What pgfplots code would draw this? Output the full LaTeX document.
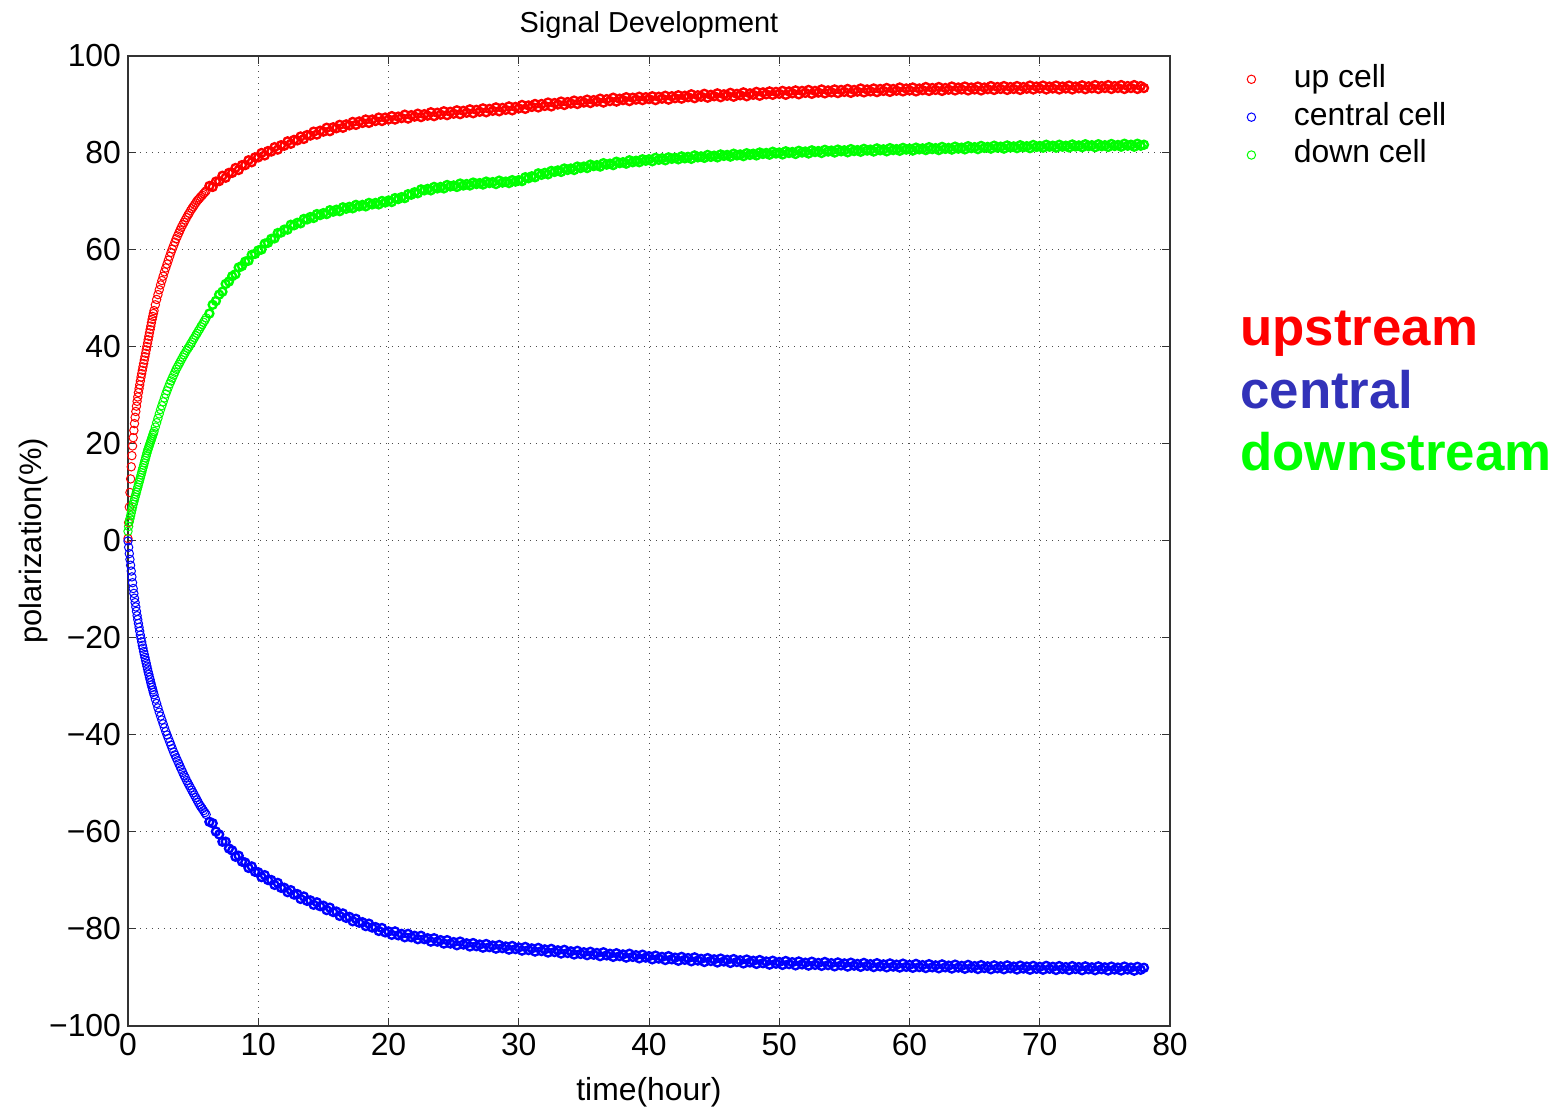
\documentclass[border=0pt]{standalone}
\usepackage{pgfplots}
\pgfplotsset{compat=1.18}
\usepackage{pgfplotstable}
\usepackage{fontspec}
\setmainfont{Liberation Sans}
\definecolor{upc}{RGB}{255,0,0}
\definecolor{cenc}{RGB}{0,0,255}
\definecolor{downc}{RGB}{0,255,0}
\definecolor{centxt}{RGB}{50,50,185}
\pgfplotsset{myleg/.style={legend image code/.code={\draw[##1] plot coordinates {(0cm,0cm)}; \path[draw=none] (0cm,0cm) (0.68cm,0cm);}}}
\pgfplotstableread{
t u c d
0.00 0.5 0 2.0
0.05 3.8 -1.3 3.0
0.10 7.0 -2.6 4.0
0.15 10.0 -3.8 4.6
0.20 12.8 -5.0 5.2
0.25 15.3 -6.2 5.8
0.30 17.6 -7.4 6.4
0.35 19.6 -8.6 7.0
0.40 21.3 -9.8 7.6
0.45 22.8 -10.8 8.1
0.50 24.2 -11.8 8.6
0.55 25.5 -12.7 9.1
0.60 26.7 -13.6 9.6
0.65 27.8 -14.5 10.1
0.70 28.8 -15.4 10.6
0.75 29.7 -16.2 11.1
0.80 30.6 -17.0 11.6
0.85 31.4 -17.8 12.1
0.90 32.2 -18.6 12.6
0.95 33.0 -19.4 13.1
1.00 33.8 -20.1 13.6
1.05 34.5 -20.8 14.1
1.10 35.2 -21.5 14.6
1.15 35.9 -22.1 15.1
1.20 36.6 -22.8 15.6
1.25 37.3 -23.4 16.1
1.30 38.0 -24.0 16.6
1.35 38.7 -24.6 17.1
1.40 39.4 -25.2 17.6
1.45 40.1 -25.8 18.1
1.50 40.8 -26.4 18.6
1.55 41.5 -27.0 19.0
1.60 42.2 -27.5 19.4
1.65 42.9 -28.1 19.8
1.70 43.6 -28.6 20.2
1.75 44.3 -29.2 20.6
1.80 45.0 -29.7 21.0
1.85 45.7 -30.2 21.4
1.90 46.3 -30.7 21.8
1.95 46.9 -31.2 22.2
2.00 47.5 -31.7 22.6
2.1 48.7 -32.6 23.5
2.2 49.8 -33.5 24.4
2.3 50.8 -34.4 25.3
2.4 51.8 -35.3 26.2
2.5 52.8 -36.1 27.1
2.6 53.7 -36.9 27.9
2.7 54.6 -37.7 28.7
2.8 55.5 -38.5 29.5
2.9 56.3 -39.3 30.3
3.0 57.1 -40.0 31.0
3.1 57.9 -40.7 31.7
3.2 58.7 -41.4 32.4
3.3 59.5 -42.1 33.0
3.4 60.2 -42.8 33.6
3.5 60.9 -43.5 34.2
3.6 61.6 -44.1 34.8
3.7 62.3 -44.7 35.4
3.8 62.9 -45.3 35.9
3.9 63.5 -45.9 36.4
4.0 64.1 -46.5 36.9
4.1 64.7 -47.1 37.4
4.2 65.2 -47.7 37.9
4.3 65.7 -48.3 38.4
4.4 66.2 -48.8 38.8
4.5 66.7 -49.4 39.3
4.6 67.2 -49.9 39.7
4.7 67.6 -50.4 40.1
4.8 68.1 -50.9 40.6
4.9 68.5 -51.4 41.0
5.0 68.9 -51.9 41.5
5.1 69.3 -52.4 41.9
5.2 69.7 -52.9 42.4
5.3 70.1 -53.4 42.8
5.4 70.4 -53.9 43.3
5.5 70.7 -54.4 43.7
5.6 71.0 -54.8 44.2
5.7 71.3 -55.2 44.6
5.8 71.6 -55.6 45.1
5.9 71.9 -56.0 45.5
6.0 72.2 -56.4 46.0
6.25 73.2 -57.9 46.9
6.5 73.0 -58.2 48.7
6.75 74.1 -59.9 49.5
7.0 74.2 -60.5 50.8
7.25 75.3 -62.0 51.4
7.5 74.9 -62.0 53.0
7.75 75.9 -63.4 53.5
8.0 75.9 -63.8 54.6
8.25 76.9 -65.1 55.0
8.5 76.5 -64.9 56.4
8.75 77.5 -66.1 56.7
9.0 77.5 -66.3 57.6
9.25 78.5 -67.4 57.8
9.5 78.1 -67.1 59.0
9.75 79.1 -68.2 59.2
10.0 79.1 -68.3 59.9
10.25 80.0 -69.3 60.1
10.5 79.5 -68.9 61.3
10.75 80.4 -69.9 61.5
11.0 80.3 -69.9 62.3
11.25 81.2 -70.9 62.4
11.5 80.7 -70.5 63.5
11.75 81.6 -71.5 63.6
12.0 81.5 -71.5 64.2
12.25 82.4 -72.4 64.2
12.5 81.9 -72.0 65.2
12.75 82.7 -72.9 65.1
13.0 82.6 -72.8 65.6
13.25 83.4 -73.8 65.5
13.5 82.9 -73.3 66.4
13.75 83.7 -74.2 66.3
14.0 83.6 -74.1 66.8
14.25 84.4 -75.0 66.6
14.5 83.8 -74.5 67.4
14.75 84.6 -75.3 67.2
15.0 84.4 -75.2 67.6
15.25 85.2 -76.1 67.4
15.5 84.5 -75.6 68.2
15.75 85.3 -76.5 67.9
16.0 85.1 -76.4 68.3
16.25 85.8 -77.3 68.0
16.5 85.2 -76.8 68.8
16.75 85.9 -77.7 68.5
17.0 85.7 -77.5 68.9
17.25 86.4 -78.4 68.6
17.5 85.8 -77.9 69.3
17.75 86.5 -78.7 69.0
18.0 86.2 -78.6 69.3
18.25 86.9 -79.4 69.0
18.5 86.2 -78.9 69.7
18.75 86.9 -79.7 69.4
19.0 86.6 -79.6 69.7
19.25 87.3 -80.4 69.4
19.5 86.6 -79.8 70.1
19.75 87.3 -80.7 69.8
20.0 86.9 -80.5 70.2
20.25 87.6 -81.2 69.9
20.5 86.9 -80.5 70.7
20.75 87.5 -81.3 70.5
21.0 87.2 -81.0 70.9
21.25 87.9 -81.7 70.7
21.5 87.1 -81.0 71.5
21.75 87.8 -81.7 71.4
22.0 87.5 -81.4 71.9
22.25 88.1 -82.1 71.7
22.5 87.4 -81.4 72.5
22.75 88.0 -82.1 72.3
23.0 87.7 -81.9 72.6
23.25 88.4 -82.6 72.3
23.5 87.6 -81.9 73.0
23.75 88.3 -82.6 72.7
24.0 87.9 -82.3 73.0
24.25 88.6 -83.0 72.7
24.5 87.8 -82.3 73.4
24.75 88.5 -83.0 73.1
25.0 88.1 -82.7 73.3
25.25 88.8 -83.35 73.0
25.5 88.0 -82.6 73.7
25.75 88.7 -83.2 73.3
26.0 88.3 -82.95 73.6
26.25 89.0 -83.6 73.3
26.5 88.2 -82.9 73.9
26.75 88.9 -83.55 73.6
27.0 88.5 -83.2 73.8
27.25 89.2 -83.85 73.5
27.5 88.4 -83.1 74.1
27.75 89.1 -83.75 73.8
28.0 88.7 -83.4 74.0
28.25 89.4 -84.05 73.6
28.5 88.6 -83.3 74.3
28.75 89.3 -83.95 73.9
29.0 88.9 -83.6 74.1
29.25 89.6 -84.25 73.8
29.5 88.8 -83.5 74.4
29.75 89.5 -84.15 74.1
30.0 89.2 -83.8 74.4
30.25 89.9 -84.45 74.2
30.5 89.1 -83.7 75.0
30.75 89.8 -84.35 74.8
31.0 89.5 -84.0 75.2
31.25 90.1 -84.65 75.0
31.5 89.4 -83.9 75.8
31.75 90.1 -84.55 75.5
32.0 89.7 -84.2 75.9
32.25 90.4 -84.85 75.6
32.5 89.6 -84.1 76.3
32.75 90.3 -84.75 76.1
33.0 90.0 -84.4 76.4
33.25 90.6 -85.05 76.1
33.5 89.9 -84.3 76.8
33.75 90.5 -84.95 76.5
34.0 90.2 -84.6 76.8
34.25 90.8 -85.25 76.5
34.5 90.1 -84.5 77.2
34.75 90.7 -85.15 76.9
35.0 90.4 -84.8 77.2
35.25 91.0 -85.4 76.9
35.5 90.3 -84.7 77.6
35.75 90.9 -85.3 77.3
36.0 90.6 -84.95 77.5
36.25 91.2 -85.6 77.2
36.5 90.4 -84.8 77.9
36.75 91.1 -85.45 77.6
37.0 90.7 -85.1 77.8
37.25 91.4 -85.75 77.5
37.5 90.6 -85.0 78.2
37.75 91.2 -85.6 77.9
38.0 90.9 -85.25 78.1
38.25 91.5 -85.9 77.8
38.5 90.7 -85.1 78.5
38.75 91.4 -85.75 78.1
39.0 91.0 -85.4 78.4
39.25 91.6 -86.05 78.1
39.5 90.9 -85.3 78.7
39.75 91.5 -85.9 78.4
40.0 91.1 -85.6 78.7
40.25 91.7 -86.25 78.3
40.5 90.9 -85.5 79.0
40.75 91.6 -86.1 78.6
41.0 91.2 -85.75 78.9
41.25 91.8 -86.4 78.5
41.5 91.0 -85.6 79.1
41.75 91.7 -86.25 78.8
42.0 91.3 -85.9 79.0
42.25 91.9 -86.55 78.7
42.5 91.2 -85.75 79.3
42.75 91.8 -86.35 78.9
43.0 91.5 -86.0 79.2
43.25 92.1 -86.65 78.8
43.5 91.3 -85.85 79.5
43.75 91.9 -86.5 79.1
44.0 91.6 -86.15 79.3
44.25 92.2 -86.8 79.0
44.5 91.4 -86.0 79.6
44.75 92.0 -86.6 79.2
45.0 91.7 -86.25 79.45
45.25 92.3 -86.9 79.1
45.5 91.5 -86.1 79.7
45.75 92.1 -86.7 79.4
46.0 91.8 -86.35 79.6
46.25 92.4 -87.0 79.25
46.5 91.6 -86.2 79.85
46.75 92.2 -86.8 79.5
47.0 91.9 -86.45 79.7
47.25 92.5 -87.1 79.35
47.5 91.7 -86.3 79.95
47.75 92.3 -86.9 79.6
48.0 92.0 -86.55 79.85
48.25 92.6 -87.2 79.5
48.5 91.8 -86.4 80.1
48.75 92.5 -87.05 79.8
49.0 92.1 -86.7 80.0
49.25 92.7 -87.35 79.65
49.5 92.0 -86.55 80.25
49.75 92.6 -87.15 79.9
50.0 92.2 -86.8 80.1
50.25 92.8 -87.4 79.7
50.5 92.0 -86.6 80.35
50.75 92.7 -87.25 80.0
51.0 92.3 -86.85 80.2
51.25 92.9 -87.5 79.8
51.5 92.1 -86.7 80.45
51.75 92.8 -87.3 80.1
52.0 92.4 -86.95 80.3
52.25 93.0 -87.55 79.9
52.5 92.2 -86.75 80.55
52.75 92.8 -87.4 80.2
53.0 92.45 -87.0 80.4
53.25 93.1 -87.6 80.0
53.5 92.3 -86.8 80.65
53.75 92.9 -87.45 80.3
54.0 92.5 -87.05 80.5
54.25 93.1 -87.7 80.1
54.5 92.35 -86.9 80.7
54.75 93.0 -87.5 80.35
55.0 92.6 -87.1 80.55
55.25 93.2 -87.75 80.15
55.5 92.4 -86.95 80.8
55.75 93.0 -87.55 80.4
56.0 92.65 -87.2 80.6
56.25 93.3 -87.8 80.25
56.5 92.5 -87.0 80.85
56.75 93.1 -87.6 80.5
57.0 92.7 -87.25 80.7
57.25 93.3 -87.85 80.3
57.5 92.55 -87.05 80.95
57.75 93.2 -87.7 80.55
58.0 92.8 -87.3 80.75
58.25 93.4 -87.9 80.35
58.5 92.6 -87.1 81.0
58.75 93.2 -87.75 80.6
59.0 92.85 -87.35 80.8
59.25 93.5 -87.95 80.45
59.5 92.7 -87.15 81.05
59.75 93.3 -87.8 80.7
60.0 92.9 -87.4 80.9
60.25 93.5 -88.0 80.5
60.5 92.7 -87.2 81.1
60.75 93.3 -87.85 80.75
61.0 92.95 -87.45 80.95
61.25 93.6 -88.05 80.6
61.5 92.8 -87.25 81.2
61.75 93.4 -87.9 80.8
62.0 93.0 -87.5 81.0
62.25 93.6 -88.1 80.6
62.5 92.8 -87.3 81.25
62.75 93.4 -87.9 80.85
63.0 93.05 -87.55 81.05
63.25 93.7 -88.15 80.7
63.5 92.9 -87.35 81.3
63.75 93.5 -87.95 80.9
64.0 93.1 -87.6 81.1
64.25 93.7 -88.2 80.75
64.5 92.9 -87.4 81.4
64.75 93.5 -88.0 81.0
65.0 93.1 -87.65 81.2
65.25 93.7 -88.25 80.8
65.5 92.9 -87.45 81.45
65.75 93.5 -88.05 81.05
66.0 93.15 -87.7 81.25
66.25 93.8 -88.3 80.9
66.5 93.0 -87.5 81.5
66.75 93.6 -88.1 81.1
67.0 93.2 -87.7 81.3
67.25 93.8 -88.3 80.9
67.5 93.0 -87.5 81.55
67.75 93.6 -88.1 81.15
68.0 93.2 -87.75 81.35
68.25 93.8 -88.35 81.0
68.5 93.0 -87.55 81.6
68.75 93.6 -88.15 81.2
69.0 93.25 -87.75 81.4
69.25 93.9 -88.4 81.0
69.5 93.1 -87.6 81.65
69.75 93.7 -88.2 81.25
70.0 93.3 -87.8 81.45
70.25 93.9 -88.4 81.1
70.5 93.1 -87.6 81.7
70.75 93.7 -88.2 81.3
71.0 93.3 -87.8 81.5
71.25 93.9 -88.45 81.1
71.5 93.1 -87.65 81.7
71.75 93.7 -88.25 81.3
72.0 93.3 -87.85 81.5
72.25 93.9 -88.45 81.15
72.5 93.1 -87.65 81.75
72.75 93.7 -88.25 81.35
73.0 93.35 -87.85 81.55
73.25 93.95 -88.5 81.2
73.5 93.15 -87.7 81.8
73.75 93.75 -88.3 81.4
74.0 93.35 -87.9 81.6
74.25 94.0 -88.5 81.2
74.5 93.2 -87.7 81.8
74.75 93.8 -88.3 81.4
75.0 93.4 -87.9 81.6
75.25 94.0 -88.55 81.25
75.5 93.2 -87.75 81.85
75.75 93.8 -88.35 81.45
76.0 93.4 -87.95 81.65
76.25 94.0 -88.55 81.3
76.5 93.2 -87.75 81.9
76.75 93.8 -88.35 81.5
77.0 93.4 -87.95 81.7
77.25 94.0 -88.6 81.3
77.5 93.2 -87.8 81.9
77.75 93.8 -88.4 81.5
78.0 93.4 -88.0 81.7
}\datatab
\begin{document}
\begin{tikzpicture}
\useasboundingbox (-64bp,-41.5bp) rectangle (717.5bp,513bp);
\begin{axis}[
  scale only axis,
  width=521bp, height=485bp,
  xmin=0, xmax=80, ymin=-100, ymax=100,
  xtick={0,10,...,80},
  ytick={-100,-80,...,100},
  yticklabels={−100,−80,−60,−40,−20,0,20,40,60,80,100},
  xticklabel style={font=\fontsize{16}{18}\selectfont},
  yticklabel style={font=\fontsize{16}{18}\selectfont},
  /pgf/number format/assume math mode=true,
  grid=major,
  major grid style={black!70, line width=0.5bp, dash pattern=on 0.6bp off 2.4bp},
  axis line style={black!80, line width=0.6bp},
  major tick length=4bp,
  tick style={black!80, line width=0.5bp},
  title={Signal Development},
  title style={font=\fontsize{14.5}{16}\selectfont, yshift=-0.5bp},
  xlabel={time(hour)},
  ylabel={polarization(\%)},
  xlabel style={font=\fontsize{16}{18}\selectfont, yshift=-4bp},
  ylabel style={font=\fontsize{15.5}{18}\selectfont, yshift=-6bp},
  legend style={at={(1.068,1.0)}, anchor=north west, draw=none, fill=none,
    font=\fontsize{16}{18}\selectfont,
    nodes={text height=11.5pt, text depth=3.5pt, inner sep=2pt},
    legend cell align=left},
  clip=false,
]
\addplot[only marks, mark=o, color=upc, mark size=2.1bp, line width=0.5bp, myleg, restrict x to domain=-1:6.05] table[x=t,y=u] {\datatab};
\addlegendentry{up cell}
\addplot[only marks, mark=o, color=cenc, mark size=2.1bp, line width=0.5bp, myleg, restrict x to domain=-1:6.05] table[x=t,y=c] {\datatab};
\addlegendentry{central cell}
\addplot[only marks, mark=o, color=downc, mark size=2.1bp, line width=0.5bp, myleg, restrict x to domain=-1:6.05] table[x=t,y=d] {\datatab};
\addlegendentry{down cell}
\addplot[forget plot, only marks, mark=o, color=upc, mark size=2.0bp, line width=1.2bp, restrict x to domain=6.1:80] table[x=t,y=u] {\datatab};
\addplot[forget plot, only marks, mark=o, color=cenc, mark size=2.0bp, line width=1.2bp, restrict x to domain=6.1:80] table[x=t,y=c] {\datatab};
\addplot[forget plot, only marks, mark=o, color=downc, mark size=2.0bp, line width=1.2bp, restrict x to domain=6.1:80] table[x=t,y=d] {\datatab};
\node[anchor=base west, inner sep=0pt, text=upc, font=\fontsize{26.5}{30}\selectfont\bfseries] at (rel axis cs:1.0672,0.702) {upstream};
\node[anchor=base west, inner sep=0pt, text=centxt, font=\fontsize{26.5}{30}\selectfont\bfseries] at (rel axis cs:1.0672,0.637) {central};
\node[anchor=base west, inner sep=0pt, text=downc, font=\fontsize{26.5}{30}\selectfont\bfseries] at (rel axis cs:1.0672,0.573) {downstream};
\end{axis}
\end{tikzpicture}
\end{document}
